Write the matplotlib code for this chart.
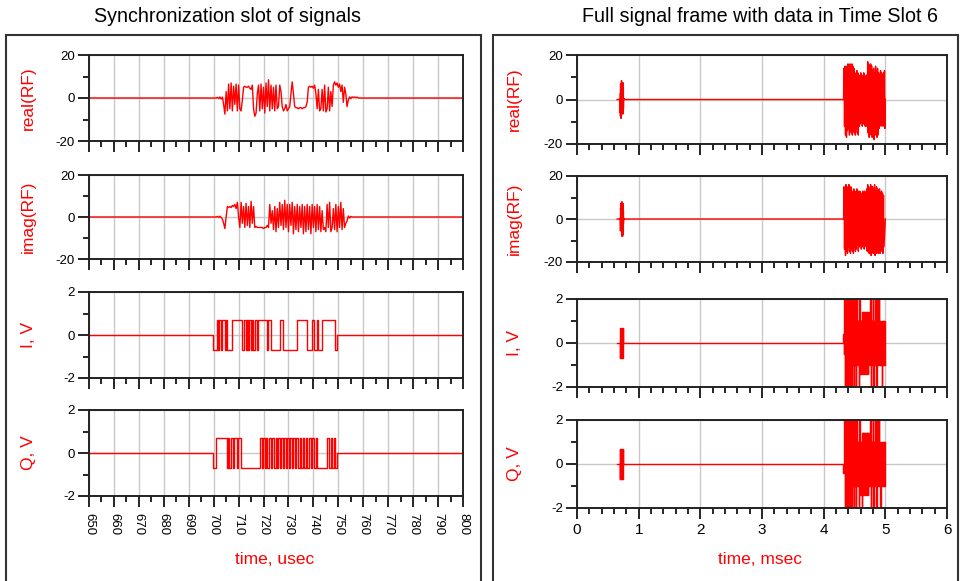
import numpy as np
import matplotlib
matplotlib.use('Agg')
import matplotlib.pyplot as plt
from matplotlib.ticker import MultipleLocator
from matplotlib.patches import Rectangle

plt.rcParams['font.family'] = ['Liberation Sans', 'DejaVu Sans']
plt.rcParams['axes.unicode_minus'] = False

# ---- sync slot (usec), RF samples every 0.5 usec starting at 700 ----
rf_t0 = 700.0
rf_dt = 0.5
real_sync = [0, 0, 0, 0.3, -0.3, 0.5, -0.5, 0.4, -3, -7.5,
             3, -6, 6.5, -5, 7, -6, 5.5, -3, 6.5, -6,
             6, -5, -6, -1, 5, 5.5, 5, 5, 5.5, 4.5,
             4, 6, -5, -8.5, -7, 2, 6, -6, 6.5, -5,
             5, -7, 7, -4, 8.5, -6, 6, -5, 5, -6,
             6, -5, -4, 6, 3, -4, -6, -5, -3, -6,
             -5, -4, 2, 7.5, 2, -4, -4.5, -4.5, -5, -4.5,
             -4.5, -5, -4.5, -4.5, -4, -2, 5, 5.5, 5, 5.5,
             4.5, 6, 2, -5, 4, -6, -5, 4, -6, 6,
             -6.5, -5, 5, -6, 3, -4, 6, 7.5, 6, 7,
             5, 6.5, 3, 6, -2, 5, 2, -4, -1, 0.5,
             -0.3, 0.5, 0.3, 0.5, 0.2, 0.4, 0.1, 0, 0]
imag_sync = [0, 0, 0, 0.3, -0.3, 0.4, -0.2, -1, -3, -5.5,
             0, 5, 4.5, 5, 4.5, 5.5, 5, 6, 4, 7,
             0, -5, 7, -3, 5, -5, 6.5, -4, 5, -5,
             7.5, -3, 5, -5, -4.5, -5, -5, -5, -5, -5,
             -5.5, -5, -5, -4, -5, 6, -3, 3, -6, 5,
             -7, 4, -5, 7, -4, 6, -6, 8, -5, 6,
             -7, 6, -4, 7, -8, 5, -6, 6, -7, 5,
             -5, 6, -8, 5, -7, 6, -6, 5, -8, 6,
             -5, 5, -7, 6, -6, 5, -7, 3, -6, -5,
             -7, 6, -5, 7, -7, -5, 4, -6, 6, -7,
             5, -5, 7, -6, 4, -5, -3, -2, 0.5, -0.5,
             0.3, 0, 0]

# I / Q baseband bits: switching times (usec) and level after each switch
I_edges = [699.9, 701.3, 701.8, 702.3, 702.8, 703.3, 704.6, 705.0, 705.5, 707.5,
           711.2, 712.3, 712.8, 713.2, 713.9, 714.3, 714.8, 715.4, 715.9, 716.4,
           717.2, 717.9, 721.2, 721.9, 723.0, 726.6, 727.7, 733.3, 737.5, 739.3,
           740.2, 741.3, 742.0, 743.3, 748.6, 749.4]
I_levels = [-0.7, 0.7, -0.7, 0.7, -0.7, 0.7, -0.7, 0.7, -0.7, 0.7,
            -0.7, 0.7, -0.7, 0.7, -0.7, 0.7, -0.7, 0.7, -0.7, 0.7,
            -0.7, 0.7, -0.7, 0.7, -0.7, 0.7, -0.7, 0.7, -0.7, 0.7,
            -0.7, 0.7, -0.7, 0.7, -0.7, 0]
Q_edges = [699.9, 700.9, 705.3, 705.8, 706.3, 707.0, 707.6, 708.3, 709.3, 709.8,
           710.9, 718.6, 719.2, 719.8, 720.4, 721.0, 721.5, 722.2, 722.8, 723.5,
           724.0, 724.8, 725.3, 726.0, 726.5, 727.1, 727.7, 728.4, 728.9, 729.6,
           730.1, 730.8, 731.3, 732.0, 732.5, 733.2, 733.8, 734.5, 735.0, 735.7,
           736.3, 737.0, 737.5, 738.3, 738.9, 739.6, 740.1, 740.9, 741.4, 745.6,
           746.2, 746.9, 747.5, 748.2, 748.8, 749.6]
Q_levels = [-0.7, 0.7, -0.7, 0.7, -0.7, 0.7, -0.7, 0.7, -0.7, 0.7,
            -0.7, 0.7, -0.7, 0.7, -0.7, 0.7, -0.7, 0.7, -0.7, 0.7,
            -0.7, 0.7, -0.7, 0.7, -0.7, 0.7, -0.7, 0.7, -0.7, 0.7,
            -0.7, 0.7, -0.7, 0.7, -0.7, 0.7, -0.7, 0.7, -0.7, 0.7,
            -0.7, 0.7, -0.7, 0.7, -0.7, 0.7, -0.7, 0.7, -0.7, 0.7,
            -0.7, 0.7, -0.7, 0.7, -0.7, 0]

# ---- data burst in time slot 6 (msec) ----
rf_data_t0 = 4.33
iq_data_t0 = 4.32
data_dt = 0.008
data_end = 5.0
real_data = [14, -12, 15, -16, 13, -17, 15, -14, 16, -13,
             15, -16, 16, -14, 15, -15, 16, -16, 15, -14,
             14, -15, 12, -16, 11, -13, 13, -15, 12, -16,
             11, -12, 10, -11, 12, -10, 11, -12, 10, -11,
             12, -11, 11, -12, 10, -12, 11, -10,
             17, -15, 16, -17, 15, -14, 16, -16, 15, -17,
             13, -15, 14, -18, 12, -16, 15, -15, 13, -17,
             14, -16, 12, -13, 11, -10, 13, -12, 12, -11,
             11, -12, 12, -10, 13, -13]
imag_data = [15, -14, 14, -17, 16, -15, 13, -16, 15, -13,
             16, -15, 14, -16, 15, -14, 13, -15, 12, -16,
             14, -13, 13, -15, 12, -14, 14, -12, 13, -15,
             12, -13, 13, -12, 11, -14, 12, -13, 13, -12,
             12, -14, 13, -12, 12, -13, 14, -15,
             16, -14, 15, -16, 14, -15, 16, -17, 15, -14,
             15, -16, 14, -15, 16, -17, 13, -16, 15, -15,
             14, -16, 13, -15, 14, -16, 12, -15, 13, -14,
             12, -16, 11, -13]
I_data = [0.4, -0.5, 2.2, -2.2, 2.2, -2.2, 2.2, -2.2, 2.2, -2.2,
          2.2, -2.2, 2.2, -2.2, 2.2, -2.2, 2.2, -2.2, 2.2, -1,
          2.2, -2.2, 2.2, -1, 2.2, -2.2, 2.2, -1, 1, -1,
          1, -2.2, 2.2, -1.4, 1, -1.4, 1, -1.4, 1.4, -1.4,
          1.4, -1.4, 1.4, -1.4, 1.4, -1.4, 1.4, -1.4, 1.4, -1.4,
          1.4, -1, 1, -1, 2.2, -2.2, 1, -1, 1, -1,
          2.2, -2.2, 1, -1, 1, 2.2, -1, -2.2, 1, 2.2,
          -1, 1, 2.2, -1, 1, -1, 1, -1, -2.2, 1,
          -1, 1, -1, 1, -1]
Q_data = [-0.4, 0.5, 2.2, -2.2, 2.2, -2.2, 2.2, -2.2, 2.2, -2.2,
          2.2, -2.2, 2.2, -2.2, 2.2, -2.2, 2.2, -2.2, 2.2, -1,
          2.2, -2.2, 1, -1, 2.2, -2.2, 2.2, -1, 1, -1,
          1, -2.2, 2.2, -1.4, 1, -1.4, 1, -2.2, 1.4, -1.4,
          1.4, -1.4, 1.4, -1.4, 1.4, -1.4, 1.4, -1.4, 1.4, -1.4,
          1.4, -1, 1, -1, 2.2, -2.2, 1, -1, 1, -1,
          2.2, -2.2, 1, -1, 1, 2.2, -1, -2.2, 1, 2.2,
          -1, 1, 2.2, -1, 1, -2.2, 1, -1, -1, 1,
          -1, 1, -1, 1, -1]

red = '#ff0000'

fig = plt.figure(figsize=(9.61, 5.81), dpi=100)
W, H = 961.0, 581.0


def add_ax(x0, x1, y0, y1):
    return fig.add_axes([x0 / W, 1 - y1 / H, (x1 - x0) / W, (y1 - y0) / H])


def style(ax, xlim, xmaj, xmin, ylim, ymaj, ymin):
    ax.set_xlim(xlim)
    ax.set_ylim(ylim)
    ax.xaxis.set_major_locator(MultipleLocator(xmaj))
    ax.xaxis.set_minor_locator(MultipleLocator(xmin))
    ax.yaxis.set_major_locator(MultipleLocator(ymaj))
    ax.yaxis.set_minor_locator(MultipleLocator(ymin))
    ax.grid(True, which='major', color='#c8c8c8', lw=1)
    ax.set_axisbelow(True)
    for s in ax.spines.values():
        s.set_linewidth(1.4)
        s.set_color('#222222')
    ax.tick_params(which='major', direction='out', length=8, width=1.2,
                   labelsize=9.5, pad=2)
    ax.tick_params(which='minor', direction='out', length=4.5, width=1.2)


def sync_rf(vals, scale=1.0):
    t = rf_t0 + rf_dt * np.arange(len(vals))
    tt = np.concatenate([[650.0], t, [800.0]]) * scale
    vv = np.concatenate([[0.0], vals, [0.0]])
    return tt, vv


def sync_iq(edges, levels, scale=1.0):
    tt = np.concatenate([[650.0], edges, [800.0]]) * scale
    vv = np.concatenate([[0.0], levels, [0.0]])
    return tt, vv


left_rows = [(55, 141), (175, 259), (292, 378), (410, 496)]
right_rows = [(55, 144), (176, 262), (299, 387), (420, 508)]
names = ['real(RF)', 'imag(RF)', 'I, V', 'Q, V']

# left column: synchronization slot
for i, (y0, y1) in enumerate(left_rows):
    ax = add_ax(89, 463, y0, y1)
    if i < 2:
        vals = real_sync if i == 0 else imag_sync
        t, v = sync_rf(vals)
        ax.plot(t, v, color=red, lw=1)
        style(ax, (650, 800), 10, 5, (-20, 20), 20, 10)
    else:
        e, l = (I_edges, I_levels) if i == 2 else (Q_edges, Q_levels)
        t, v = sync_iq(e, l)
        ax.plot(t, v, color=red, lw=1, drawstyle='steps-post')
        style(ax, (650, 800), 10, 5, (-2, 2), 2, 1)
    ax.set_ylabel(names[i], color=red, fontsize=12.5)
    ax.yaxis.set_label_coords(-0.143, 0.5)
    if i < 3:
        ax.tick_params(labelbottom=False)
    else:
        ax.tick_params(axis='x', labelrotation=-90, pad=4)

# right column: full frame
for i, (y0, y1) in enumerate(right_rows):
    ax = add_ax(577, 947, y0, y1)
    if i < 2:
        vals = real_sync if i == 0 else imag_sync
        dvals = real_data if i == 0 else imag_data
        t, v = sync_rf(vals, 1e-3)
        td = rf_data_t0 + data_dt * np.arange(len(dvals))
        tt = np.concatenate([t[:-1], [rf_data_t0 - data_dt], td, [data_end]])
        vv = np.concatenate([v[:-1], [0.0], dvals, [0.0]])
        ax.plot(tt, vv, color=red, lw=1)
        style(ax, (0, 6), 1, 0.2, (-20, 20), 20, 10)
    else:
        e, l = (I_edges, I_levels) if i == 2 else (Q_edges, Q_levels)
        dvals = I_data if i == 2 else Q_data
        t, v = sync_iq(e, l, 1e-3)
        td = iq_data_t0 + data_dt * np.arange(len(dvals))
        tt = np.concatenate([t[:-1], td, [data_end]])
        vv = np.concatenate([v[:-1], dvals, [dvals[-1]]])
        ax.plot(tt, vv, color=red, lw=1, drawstyle='steps-post')
        style(ax, (0, 6), 1, 0.2, (-2, 2), 2, 1)
    ax.set_ylabel(names[i], color=red, fontsize=12.5)
    ax.yaxis.set_label_coords(-0.148, 0.5)
    if i < 3:
        ax.tick_params(labelbottom=False)
    else:
        ax.tick_params(axis='x', labelsize=11, pad=3)

# frames and titles
fig.add_artist(Rectangle((6 / W, -0.01), (481 - 6) / W, 1 - 35 / H + 0.01,
                         transform=fig.transFigure, fill=False, lw=1.5, ec='#333333'))
fig.add_artist(Rectangle((493 / W, -0.01), (958 - 493) / W, 1 - 35 / H + 0.01,
                         transform=fig.transFigure, fill=False, lw=1.5, ec='#333333'))
fig.text(228 / W, 1 - 17 / H, 'Synchronization slot of signals', ha='center', va='center',
         fontsize=14.2)
fig.text(760 / W, 1 - 17 / H, 'Full signal frame with data in Time Slot 6', ha='center',
         va='center', fontsize=14.2)
fig.text(275 / W, 1 - 560 / H, 'time, usec', ha='center', va='center', color=red, fontsize=12.5)
fig.text(760 / W, 1 - 560 / H, 'time, msec', ha='center', va='center', color=red, fontsize=12.5)

fig.savefig('out.png', dpi=100)
